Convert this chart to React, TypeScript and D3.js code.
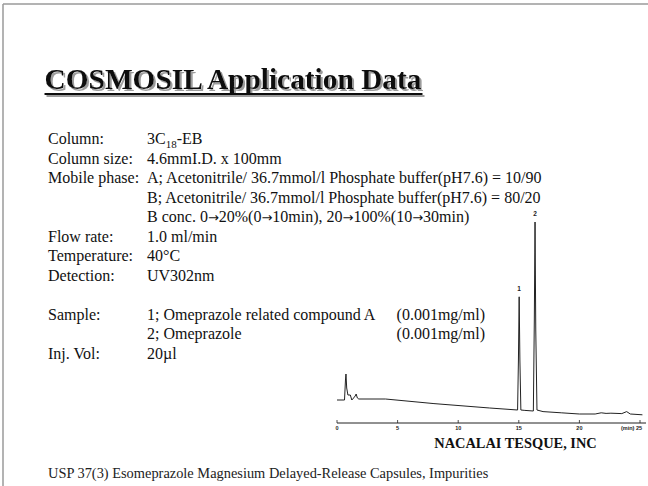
import React from "react";
import * as d3 from "d3";

const W = 648;
const H = 486;

const titleText = "COSMOSIL Application Data";
const paramLabels = ["Column:", "Column size:", "Mobile phase:", "", "", "Flow rate:", "Temperature:", "Detection:", "", "Sample:", "", "Inj. Vol:"];
const paramValues = [
  "",
  "4.6mmI.D. x 100mm",
  "A; Acetonitrile/ 36.7mmol/l Phosphate buffer(pH7.6) = 10/90",
  "B; Acetonitrile/ 36.7mmol/l Phosphate buffer(pH7.6) = 80/20",
  "B conc. 0\u219220%(0\u219210min), 20\u2192100%(10\u219230min)",
  "1.0 ml/min",
  "40\u00B0C",
  "UV302nm",
  "",
  "1; Omeprazole related compound A",
  "2; Omeprazole",
  "20\u00B5l",
];
const sampleConc = ["(0.001mg/ml)", "(0.001mg/ml)"];
const xTicks = [0, 5, 10, 15, 20, 25];
const xTickLabels = ["0", "5", "10", "15", "20", "(min) 25"];
const peakLabels = ["1", "2"];
const peakTimes = [15.03, 16.34];
const peakHeights = [61.6, 99];

// chromatogram trace: time (min), detector response (arbitrary units)
const traceTime = [
  0, 0.62, 0.7, 0.74, 0.8, 0.9, 1.1, 1.22, 1.3, 1.5, 1.58, 1.68, 1.8, 4.0, 8, 12.6, 14.9,
  14.97, 15.03, 15.09, 15.17, 15.5, 16.2, 16.28, 16.34, 16.4, 16.5, 17, 18.5, 20, 21.3,
  21.8, 22.2, 22.6, 23.5, 23.9, 24.2, 25.2,
];
const traceValue = [
  10, 10, 20, 23, 16, 12.5, 12.5, 10, 10.5, 12, 13, 11, 10.5, 10.5, 8.2, 6, 5,
  30, 61.6, 30, 5, 4.8, 4.5, 50, 99, 45, 5, 4.2, 3.6, 3, 3,
  3.6, 3.3, 3.4, 3.2, 4.2, 3, 2.6,
];

const serif = "'Liberation Serif', 'Times New Roman', serif";
const sans = "'Liberation Sans', Arial, sans-serif";
const arrowFont = "'DejaVu Sans', sans-serif";

function renderWithArrows(t: string) {
  const parts = t.split("\u2192");
  const out: React.ReactNode[] = [];
  parts.forEach((p, i) => {
    if (i > 0) {
      out.push(
        <tspan key={"a" + i} fontFamily={arrowFont} fontSize={13}>
          {"\u2192"}
        </tspan>
      );
    }
    out.push(<tspan key={"p" + i} fontFamily={serif}>{p}</tspan>);
  });
  return out;
}

export default function App() {
  const x = d3.scaleLinear().domain([0, 25]).range([337, 640]);
  const y = d3.scaleLinear().domain([0, 100]).range([420, 220]);
  const axisY = 423;
  const line = d3
    .line<number>()
    .x((_, i) => x(traceTime[i]))
    .y((d) => y(d));
  const path = line(traceValue) || "";

  const labelX = 48;
  const valueX = 147;
  const firstBase = 144;
  const step = 19.5;

  const titleX = 44.5;
  const titleY = 89;
  const titleW = 377;

  return (
    <svg width={W} height={H} viewBox={`0 0 ${W} ${H}`} style={{ display: "block", position: "absolute", left: 0, top: 0, background: "#fff" }}>
      <defs>
        <filter id="tshadow" x="-5%" y="-20%" width="115%" height="160%">
          <feDropShadow dx={2} dy={2} stdDeviation={0.4} floodColor="#9c9c9c" floodOpacity={1} />
        </filter>
      </defs>
      <rect x={0} y={0} width={W} height={H} fill="#fff" />
      {/* frame */}
      <line x1={3} y1={4} x2={W} y2={4} stroke="#9a9a9a" strokeWidth={1.5} />
      <line x1={3} y1={4} x2={3} y2={H} stroke="#9a9a9a" strokeWidth={1.5} />

      {/* title with shadow */}
      <g fontFamily={serif} fontWeight="bold" fontSize={29} filter="url(#tshadow)">
        <text x={titleX} y={titleY} fill="#111" textLength={titleW} lengthAdjust="spacingAndGlyphs">{titleText}</text>
        <rect x={titleX} y={titleY + 4} width={titleW + 1} height={2} fill="#111" />
      </g>

      {/* parameters */}
      <g fontFamily={serif} fontSize={16} fill="#111">
        {paramLabels.map((t, i) =>
          t ? (
            <text key={"l" + i} x={labelX} y={firstBase + i * step}>{t}</text>
          ) : null
        )}
        <text x={valueX} y={firstBase}>
          3C<tspan fontSize={11} dy={4}>18</tspan><tspan dy={-4}>-EB</tspan>
        </text>
        {paramValues.map((t, i) =>
          t ? (
            <text key={"v" + i} x={valueX} y={firstBase + i * step}>{renderWithArrows(t)}</text>
          ) : null
        )}
        {sampleConc.map((t, i) => (
          <text key={"c" + i} x={485} y={firstBase + (9 + i) * step} textAnchor="end">{t}</text>
        ))}
      </g>

      {/* chromatogram */}
      <path d={path} fill="none" stroke="#222" strokeWidth={1} />
      <line x1={x(0)} y1={axisY} x2={646} y2={axisY} stroke="#222" strokeWidth={1} />
      {xTicks.map((t) => (
        <line key={"t" + t} x1={x(t)} x2={x(t)} y1={axisY - 3} y2={axisY} stroke="#222" strokeWidth={0.8} />
      ))}
      <g fontFamily={sans} fontWeight="bold" fontSize={5.5} fill="#222">
        {xTicks.map((t, i) => (
          <text key={"tl" + t} x={x(t)} y={axisY + 7} textAnchor={i === xTicks.length - 1 ? "end" : "middle"} dx={i === xTicks.length - 1 ? 2 : 0}>
            {xTickLabels[i]}
          </text>
        ))}
        {peakLabels.map((p, i) => (
          <text key={"p" + i} x={x(peakTimes[i])} y={y(peakHeights[i]) - 6} textAnchor="middle" fontSize={6.5}>
            {p}
          </text>
        ))}
      </g>

      <text x={515.5} y={448} fontFamily={serif} fontWeight="bold" fontSize={14.4} textAnchor="middle" fill="#111">
        NACALAI TESQUE, INC
      </text>
      <text x={48} y={478} fontFamily={serif} fontSize={14.4} fill="#222">
        USP 37(3) Esomeprazole Magnesium Delayed-Release Capsules, Impurities
      </text>
    </svg>
  );
}
